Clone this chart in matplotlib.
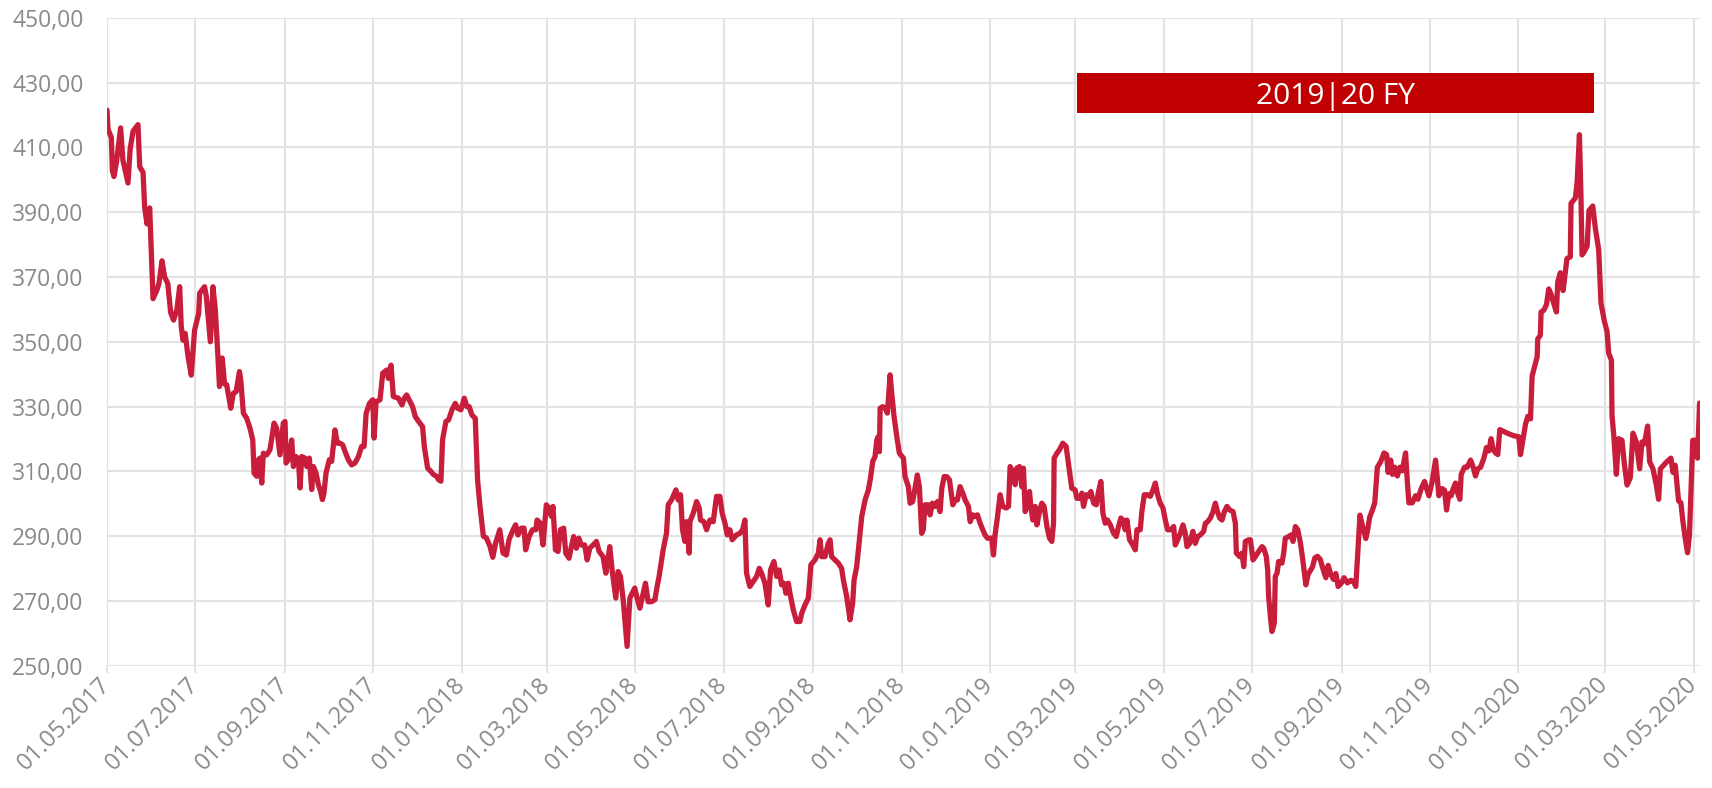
import matplotlib
matplotlib.use("Agg")
import matplotlib.pyplot as plt
import matplotlib.dates as mdates
from matplotlib.ticker import FuncFormatter
from matplotlib.patches import Rectangle
import pandas as pd

# share price; days counted from 01.05.2017
start = "2017-05-01"
days = [
    0, 0.7, 3, 3.7, 4.8, 6.4, 9.4, 11, 14.5, 16, 18, 21.4, 22.6, 24.9, 26, 27.6, 29.5,
    31.8, 34.5, 35.9, 38, 39.8, 42, 44, 46, 48.3, 50.2, 51.3, 52.5, 54, 56, 58.2, 60.5,
    63.3, 64, 67.4, 68.6, 71.4, 73.2, 74.8, 76.5, 77.7, 79.6, 81.2, 82.7,
    85.5, 87.3, 89.2, 91.5, 92.4, 94.2, 96.5, 98.8, 100.7, 101.6, 103.4, 104.6, 105.6,
    106.9, 108, 110.3, 112.6, 115.4, 117.2, 119.5, 121.8, 123, 123.7, 125.3, 127.6,
    128.8, 130.6, 132.2, 133.4, 134.5, 136.8, 138, 139.8, 141.4, 142.6, 144.4, 146,
    147.6, 148.8, 149.9, 151.3, 153.6, 155.2, 157.5, 159.1, 161, 162.8, 164.4, 166.7,
    169, 171.3, 173.7, 175.9, 177.6, 179, 181.3, 183.6, 184.5, 185.9, 188.6, 190.5,
    193.2, 194.4, 196.2, 197.8, 201.3, 203.8,
    205.4, 207, 208.8, 211.1, 213, 215.3, 218, 219.2, 221.5, 223.8, 225.6, 227.7, 229.1,
    230.7, 231.8, 234.1, 236, 238.3, 240.6, 242.2, 244.5, 246.8, 248.6, 250.2, 252.1,
    254.4, 256, 257.5, 258.5, 260, 262, 264.5, 266.5, 268.5, 270, 271.3,
    273.6, 275.9, 277.7, 280.5, 282.3, 283.9, 286.3, 288.1, 289.2, 291.6, 293.9, 296.2,
    297.1, 299.4, 301.2, 303.5, 305.4, 307, 308.1, 309.8, 311.6, 313.2, 315.5, 316.9,
    319.2, 320.8, 322.4, 324.3, 325.9, 327.7, 330, 331.7, 333.5, 335.8, 338.1, 340,
    342.7, 344.6, 346.2, 347.3, 349.2, 351.5, 353.1, 354.7, 356.6, 359.3, 361.2, 362.8,
    364.6, 366.2, 368.1, 369.9, 372, 373.8, 376.1, 378.5, 379.6, 381.4, 384.2, 386.5,
    387.7, 390, 391.6, 393, 394.6, 396.2, 397.6, 399.2, 400.3, 402.2, 402.7, 405,
    407.3, 409.1, 410, 412.3, 414.2, 416.5, 418.8, 421.1, 423.4, 425, 426.9, 428.5,
    430.3, 431.9, 434.9, 437.2, 439.1, 440.7, 441.8, 444.1, 446.4, 448.8, 450.6, 452.2,
    454.5, 456.8, 458.4, 460.7, 462.6, 464.4, 466, 467.7, 469, 470.7, 471.8, 474.1,
    476.4, 478.7, 479.9, 482.2, 484.5, 486.3, 489.1, 491.4, 492.6, 493.7, 496, 498.3,
    499.5, 500.6, 502.9, 505.2, 507.5, 508.7, 511, 513.3, 515.1, 516.1, 517.9, 519.8,
    521.4, 523.7, 526, 527.6, 529, 530.6, 531.8, 532.9, 533.6, 534.1, 535.9, 537.5,
    539.1, 541, 542.1, 543.7, 545.6, 547.4,
    550.2, 551.3, 553.6, 554.8, 556.6, 558.2, 559.8, 561.2, 562.8, 563.9, 565.1, 567.4,
    568.6, 570.2, 572, 573.7, 575.5, 576.7, 578.3, 580.1, 582, 584.3, 585.9, 587.5,
    589.3, 591.2, 592.8, 595.1, 596.3, 598.1, 599.7, 601.3, 603.2, 605, 606.6, 608.2,
    609.6, 611.2, 612.4, 613.5, 615.2, 617, 618.8, 621.1, 622.8, 623.9, 626.2, 627.4,
    628.5, 630.4, 632, 633.1, 634.3, 635.9, 637.3, 638.2, 639.6, 641.2, 642.4, 644.2,
    645.8, 647.4, 649.3, 651.1, 652.7, 653.9, 654.3, 656.2, 658, 660.3, 662.6, 664.2,
    665.4, 666.5, 668.8, 670, 672.3, 673.5, 674.6, 676.5, 678.1, 679.7, 681.6, 683.4,
    685, 686.6, 688, 689.6, 691.2, 693.1, 695.4, 697.2, 698.8, 700.4, 701.8, 703.4,
    704.6, 706.4, 708, 710.4, 711.5, 713.8, 714.9, 716.6, 718.9, 720.7, 722.6, 724.2,
    725.8, 727.6, 729.5, 731.1, 732.7, 735, 736.9, 738, 739.6, 741.5, 743.3, 744.9,
    746.1, 747.9, 750.2, 751.8, 753.5, 755.3, 757.6, 758.8, 760.4, 762.2, 764.1, 765.7,
    766.8, 768.7, 770.3, 771.9, 773.7, 775.6, 777.9, 779.5, 780.2, 782.5, 784.1, 785.3,
    786.4, 788.7, 789.9, 791.7, 793.3, 795.6, 797.9, 799.1, 800.9, 801.8, 802.5, 803.7,
    804.8, 806.4, 807.1, 808.3, 809.4, 811.7, 812.9, 814, 816.3, 818, 819.3, 821, 822.6,
    824.5, 826, 828.2, 829.8, 832.8, 834.4, 836.2, 838.1, 840.4, 842, 843.6, 845.4,
    847.3, 848.9, 850.5, 852.8, 854.6, 856.9, 859.2, 861, 862.7, 863.8, 865.6, 867.3,
    869.6, 870.7, 872.3, 874.2, 875.8, 877.6, 879.9, 882.2, 884, 885, 886.8, 888, 889.6,
    891.4, 893.2, 894.8, 897.1, 898.3, 899.4, 901.7, 904, 905.6, 907.9, 910.2, 911.6,
    913.2, 915.5, 917.8, 919, 920.1, 922.4, 924, 925.4, 927, 928.6, 930, 931.6, 932.8,
    934.6, 935.5, 937.8, 939.7, 942, 943.8, 945.4, 947, 948.9, 951.2, 953, 954.6, 956.2,
    957.6, 959.2, 960.8, 962.2, 967.3, 971.9, 975.3, 976.5, 978.3, 979.9, 981.5, 983.4,
    984.5, 986.1, 988, 988.4, 990.2, 990.7, 992.5, 994.4, 996, 997.6, 999.4, 1001.3,
    1002.2, 1004, 1005.9, 1007.5, 1008.6, 1010.9, 1011.4, 1014.4, 1015.6, 1017.2,
    1018.3, 1019, 1020.6, 1022.5, 1023.8, 1026.4, 1028.2, 1030.5, 1032.1, 1034.4,
    1036.3, 1037.4, 1039.3, 1039.7, 1040.9, 1042.7, 1044.3, 1046.6, 1048.2, 1050.1,
    1052.3, 1054.2, 1056.5, 1058.8, 1060.4, 1062, 1064.3, 1065.7, 1068, 1070.3, 1071.9,
    1073.1, 1075.4, 1077.6, 1080.4, 1081.8, 1083.4, 1084.5, 1085.7, 1087.3, 1088.6,
    1090.3, 1091.9, 1093.2, 1095.5, 1097.2, 1098.8, 1100.2,
]
prices = [
    421.5, 415.6, 413, 402.8, 401, 405, 416, 406, 399, 409.5, 415, 417, 404, 402.3, 391.5, 386.4, 391.3,
    363.3, 366, 368, 375, 370, 368, 359, 356.7, 360, 367, 354.6, 350.5, 352.6, 345.4, 339.7, 353.6,
    358.7, 365, 367, 364, 350, 367, 360, 346.5, 336.2, 345, 337, 336.7,
    329.5, 334.1, 334.6, 340.8, 338.2, 328, 326.4, 323.3, 319.7, 309.5, 308.5, 313.6, 314.1,
    306.4, 315.6, 315.1, 316.7, 324.9, 323.3, 315.1, 324.9, 325.4, 312.6, 313.6, 319.7,
    311.5, 314.6, 313.6, 304.9, 314.6, 314.1, 311.5, 314.1, 304.4, 311.5, 309.5, 305.9,
    303.8, 301.3, 303.3, 309.5, 313.6, 313.1, 322.8, 318.7, 318.7, 318.2, 316.2, 313.6,
    312, 312.6, 314.6, 317.7, 317.7, 327.9, 331, 332.1, 320.3, 331.5, 332.1, 340.3,
    341.3, 338.7, 342.8, 333.1, 332.6, 330.5,
    332.6, 333.6, 332, 330, 326.9, 325.4, 323.8, 317.7, 311, 310, 309, 308.5, 307.4,
    307, 319.7, 325.4, 325.9, 329, 331, 329.5, 329, 332.6, 330, 330, 327.4,
    326.4, 307.4, 300, 296, 290, 289.5, 287, 283.5, 288, 290, 292,
    284.8, 284.2, 288.9, 292, 293.5, 290.4, 292.5, 292.5, 285.8, 289.9, 292, 292,
    295, 294, 287.3, 299.7, 298.7, 296.1, 299.2, 285.8, 285.3, 292, 292.5, 284.8,
    283.2, 286.8, 289.9, 286.3, 289.4, 287.3, 287.3, 282.7, 286.3, 287.3, 288.4, 285.3,
    283.7, 278.6, 283.2, 286.8, 278.6, 270.9, 279.1, 277.6, 270.4, 256, 270.9, 272.4,
    274, 270.9, 267.8, 271.4, 275.5, 269.8, 269.8, 270.4, 273.4, 277.6, 285.8, 290.9,
    299.7, 301.2, 302.8, 304.3, 301.2, 302.8, 292, 288.4, 294.5, 284.8, 294.5, 297.1,
    300.7, 298.7, 295, 294.5, 292, 295, 294.5, 302.3, 302.3, 297.1, 294, 290.4,
    292, 288.9, 290.4, 290.9, 292, 295, 278.6, 274.5, 276, 277.6, 280.1, 278.6,
    275.5, 268.8, 279.6, 282.2, 277.6, 279.6, 275, 275.5, 272.4, 275.5, 272.4, 267.3,
    263.7, 263.7, 266.2, 268.8, 270.9, 281.2, 282.7, 284.8, 288.9, 283.7, 283.7, 287.8,
    288.9, 283.7, 282.7, 281.7, 280.1, 276.5, 271.4, 264.2, 269.3, 276.5, 280.6, 288.9,
    296.1, 301.2, 304.3, 308.4, 313.1, 314.6, 319.7, 320.8, 316.1, 329.5, 330, 329.5,
    328, 339.8, 334.2, 327, 320.8, 315.6,
    314.1, 308.4, 305.3, 300.2, 300.7, 304.8, 308.9, 305.3, 290.9, 292, 299.7, 299.7,
    296.6, 300.2, 299.2, 300.7, 297.6, 304.8, 308.4, 308.4, 307.4, 299.7, 301.2, 301.2,
    305.3, 303.3, 301.2, 299.2, 294.5, 296.6, 296.1, 296.6, 294, 292, 290.4, 289.4,
    289.4, 289.4, 284.2, 290.4, 296.1, 302.8, 299.2, 298.7, 299.2, 311.5, 309.5, 305.9,
    311, 311.5, 305.3, 311, 297.6, 299.7, 303.8, 299.2, 295, 299.2, 293.5, 297.6,
    300.2, 299.2, 293, 289.4, 288.4, 294, 314.1, 315.6, 316.7, 318.7, 317.7, 312.5,
    308.4, 304.8, 304.3, 301.7, 301.7, 303.3, 299.2, 302.8, 302.3, 303.8, 300.2, 299.7,
    303.8, 306.9, 297.1, 294, 295, 293.5, 290.9, 289.9, 293, 295.6, 295, 292,
    295, 288.9, 287.8, 285.8, 292, 292, 297.6, 302.8, 302.8, 302.3, 304.3, 306.4,
    302.8, 300.2, 298.7, 295, 292, 292, 293, 287.3, 288.9, 290.9, 293.5, 290.9,
    286.8, 287.8, 291.5, 287.8, 289.9, 290.4, 291.5, 294, 294.5, 295.6, 297.6, 300.2,
    298.1, 295.6, 295, 297.6, 299.2, 298.1, 297.6, 294, 284.8, 283.7, 284.8, 280.6,
    288.4, 288.9, 288.9, 282.7, 283.7, 285.3, 286.8, 286.3, 283.7, 279.6, 271.4, 265.2,
    260.6, 263.1, 277.6, 278.6, 282.2, 281.7, 284.8, 289.4, 289.9, 290.4, 288.4, 293, 292,
    287.8, 283, 275, 278.3, 280.5, 283.3, 283.8, 282.9, 279.4, 277.2, 281, 278.3,
    276.7, 278.5, 274.5, 275.6, 277.2, 275.6, 276.4, 276.1, 274.5, 282.7, 296.5, 293.2,
    289.3, 291.5, 295.9, 298.1, 300.3, 311.3, 313, 315.7, 315.2, 309.7, 313.5, 309.1, 311.3,
    308.6, 311.3, 310.2, 315.7, 306.9, 300.3, 300.3, 302.5, 301.4, 304.7, 306.9, 304.7,
    302.5, 306.9, 313.5, 308, 302.5, 304.7, 304.2, 298.1, 303.1, 302.5, 304.7, 306.4, 303.6,
    301.4, 309.1, 311.3, 311.3, 313.5, 311.3, 308.6, 310.8, 311.3, 314.1, 317.4, 316.3, 320.1,
    316.8, 315.7, 315.2, 322.9, 321.8, 321, 320.7, 315.2, 320.1, 324.5, 327, 326.2,
    339.4, 342.1, 345.4, 350.9, 352, 359.2, 359.7, 361.4, 366.3, 364.7, 361.9, 359.2,
    368.5, 371.3, 365.8, 371.8, 375.7, 376.2, 392.7, 394.4, 399.3, 413.9,
    393.8, 376.8, 377.9, 379.5, 390.5, 391.9, 385, 378.4, 361.9, 356.4,
    353.1, 346.5, 344.3, 327.3, 321.2, 309.1, 320.1, 319.6, 312.4, 305.8,
    308, 321.8, 319.1, 310.8, 319.1, 318.5, 324, 313, 310.8, 305.8, 301.4,
    310.8, 311.9, 313, 314.1, 309.7, 311.9, 306.4, 300.9, 300.3, 294.8,
    289.3, 284.9, 290.4, 319.6, 319.6, 314.1, 331.1,
]

# fiscal year banner
fy_label = "2019|20 FY"
fy_start = "2019-03-02"
fy_end = "2020-02-22"
fy_low, fy_high = 420.5, 433.0

y_min, y_max, y_step = 250, 450, 20

line_color = "#c81e3c"
banner_color = "#c00000"
grid_color = "#e3e3e3"
text_color = "#8a8a8a"
fonts = ["Open Sans", "DejaVu Sans"]

dates = pd.Timestamp(start) + pd.to_timedelta(days, unit="D")

fig = plt.figure(figsize=(17.12, 7.88), dpi=100)
ax = fig.add_axes([0.0625, 0.155, 0.9305, 0.8225])

ax.plot(dates, prices, color=line_color, linewidth=3.8, solid_joinstyle="round",
        solid_capstyle="round", zorder=3)

x0 = mdates.date2num(pd.Timestamp(fy_start))
x1 = mdates.date2num(pd.Timestamp(fy_end))
ax.add_patch(Rectangle((x0, fy_low), x1 - x0, fy_high - fy_low, facecolor=banner_color,
                       edgecolor="none", zorder=4))
ax.text((x0 + x1) / 2, (fy_low + fy_high) / 2, fy_label, color="white", fontsize=21.5,
        family=fonts, ha="center", va="center_baseline", zorder=5)

ax.set_xlim(pd.Timestamp(start), pd.Timestamp(start) + pd.Timedelta(days=1100.5))
ax.set_ylim(y_min, y_max)

ax.xaxis.set_major_locator(mdates.MonthLocator(bymonth=[1, 3, 5, 7, 9, 11]))
ax.xaxis.set_major_formatter(mdates.DateFormatter("%d.%m.%Y"))
ax.set_yticks(range(y_min, y_max + 1, y_step))
ax.yaxis.set_major_formatter(FuncFormatter(lambda v, p: f"{v:.2f}".replace(".", ",")))

ax.grid(True, color=grid_color, linewidth=1.5, zorder=0)
ax.set_axisbelow(True)
for s in ax.spines.values():
    s.set_visible(False)

ax.tick_params(axis="x", length=5, width=1.5, color=grid_color, pad=6,
               labelsize=17, labelcolor=text_color)
ax.tick_params(axis="y", length=0, pad=17, labelsize=16.5, labelcolor=text_color)
for lab in ax.get_xticklabels():
    lab.set_rotation(45)
    lab.set_ha("right")
    lab.set_va("center")
    lab.set_rotation_mode("anchor")
for lab in ax.get_xticklabels() + ax.get_yticklabels():
    lab.set_family(fonts)

fig.savefig("out.png", dpi=100)
